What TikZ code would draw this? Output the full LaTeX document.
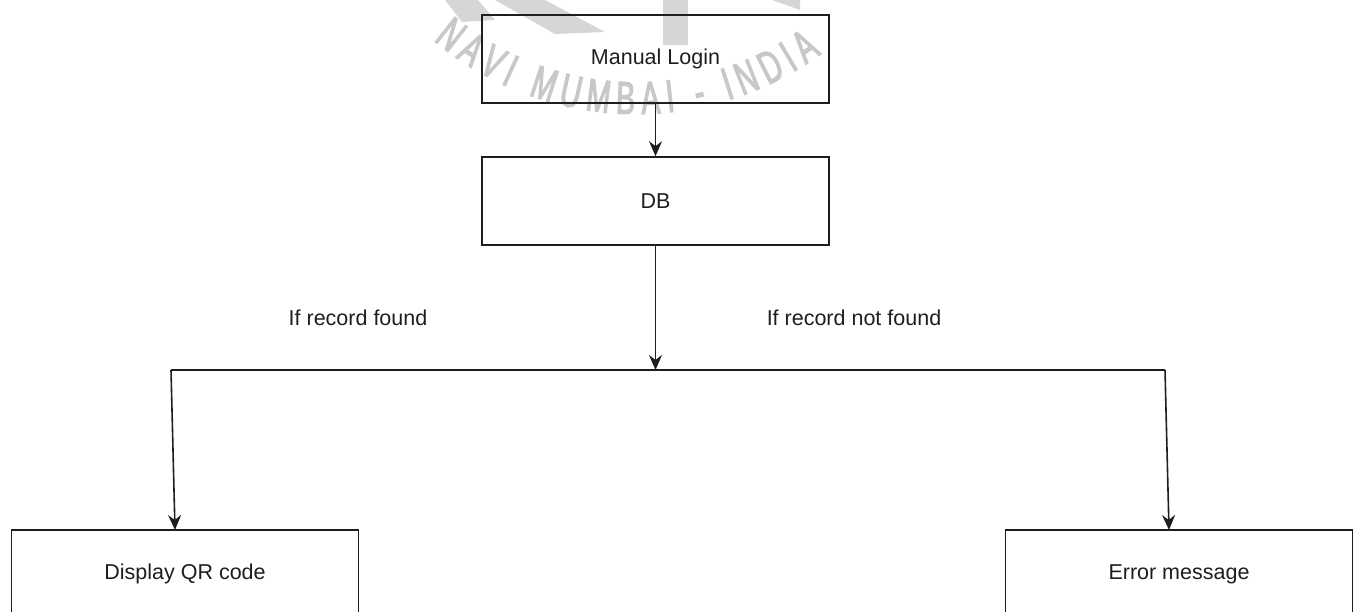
\documentclass[tikz,border=0pt]{standalone}
\usepackage{fontspec}
\setmainfont{Liberation Sans}
\newfontfamily\wmfont[FakeStretch=0.62,FakeBold=2.5]{Liberation Sans}
\usetikzlibrary{arrows.meta,decorations.text,calc}
\definecolor{wm}{HTML}{C8C8C8}
\definecolor{wmlight}{HTML}{D6D6D6}
\definecolor{ink}{HTML}{1E1E1E}
\tikzset{
  box/.style={draw=ink, line width=1.6pt, fill=none, minimum width=347pt, minimum height=88pt,
    inner sep=0pt, font=\fontsize{21.5}{24}\selectfont, text=ink},
  lbl/.style={font=\fontsize{21.5}{24}\selectfont, text=ink, inner sep=0pt},
  conn/.style={draw=ink, line width=1.6pt},
  arr/.style={conn, -{Stealth[length=15pt,width=13pt,inset=5pt]}}
}
\begin{document}
\begin{tikzpicture}[x=1pt,y=-1pt]
\useasboundingbox (0,0) rectangle (1357,612);
\clip (0,0) rectangle (1357,612);
% watermark
\begin{scope}[y=1pt]
  \fill[wmlight] (495,0) -- (545,0) -- (605,-32) -- (555,-34) -- cycle;
  \fill[wmlight] (445,0) -- (478,0) -- (495,-20) -- (462,-22) -- cycle;
  \fill[wmlight] (663,0) rectangle (688,-45);
  \fill[wmlight] (772,0) -- (800,0) -- (800,-10) -- cycle;
  \path[decorate, decoration={text along path, text={|\wmfont\fontsize{46}{50}\selectfont|NAVI MUMBAI - INDIA},
      text align={fit to path}, text color=wm}]
    (636,201) ++(230:315) arc[start angle=230, end angle=306, radius=315];
\end{scope}
% nodes
\node[box] (ml) at (655.5,59) {Manual Login};
\node[box] (db) at (655.5,201) {DB};
\node[box] (qr) at (185,574) {Display QR code};
\node[box] (er) at (1179,574) {Error message};
\node[lbl] (lf) at (358,318) {If record found};
\node[lbl] (lnf) at (854,318) {If record not found};
% junction coordinates
\coordinate (j) at (655.5,370);
\coordinate (jl) at (171,370);
\coordinate (jr) at (1165,370);
\coordinate (qrin) at (175,530);
\coordinate (erin) at (1169,530);
% connectors
\draw[arr] (ml.south) -- (db.north);
\draw[arr] (db.south) -- (j);
\draw[conn] (jl) -- (jr);
\draw[arr] (jl) -- (qrin);
\draw[arr] (jr) -- (erin);
\end{tikzpicture}
\end{document}
